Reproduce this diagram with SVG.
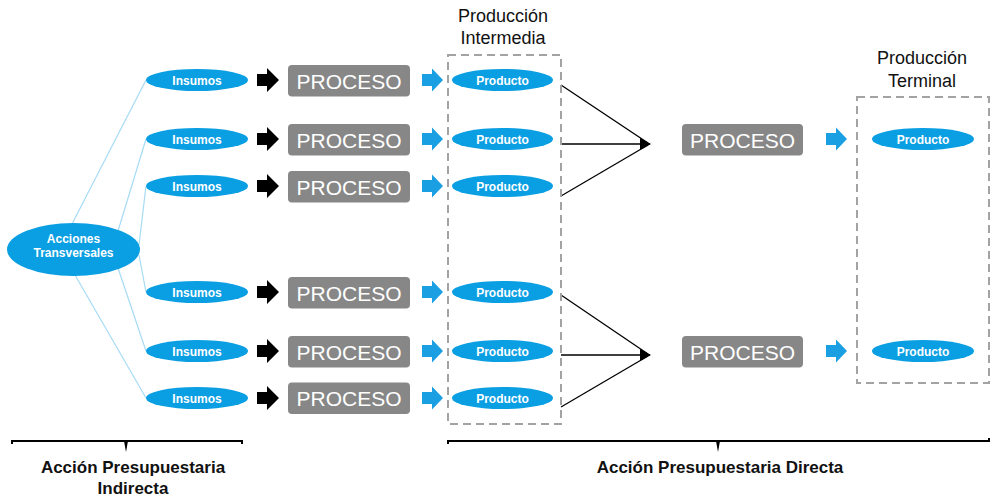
<svg xmlns="http://www.w3.org/2000/svg" width="992" height="498" viewBox="0 0 992 498">
<style>
.ell{fill:#0a9ee2}
.wt{fill:#fff;font-family:"Liberation Sans",Arial,sans-serif;font-weight:bold;font-size:12px;text-anchor:middle}
.box{fill:#878787}
.pt{fill:#fff;font-family:"Liberation Sans",Arial,sans-serif;font-size:21px;text-anchor:middle}
.blk{fill:#000}
.blu{fill:#1a9fe3}
.dash{fill:none;stroke:#a3a3a3;stroke-width:2;stroke-dasharray:8 5}
.lb{stroke:#a6dbf5;stroke-width:1.2;fill:none}
.cn{stroke:#000;stroke-width:1.3;fill:none}
.ttl{fill:#111;font-family:"Liberation Sans",Arial,sans-serif;font-size:18px;text-anchor:middle}
.ftl{fill:#111;font-family:"Liberation Sans",Arial,sans-serif;font-weight:bold;font-size:17px;text-anchor:middle}
.br{stroke:#000;stroke-width:2;fill:none}
</style>
<defs>
<path id="ab" d="M0,-6 H10 V-12 L22,0 L10,12 V6 H0 Z"/>
<path id="au" d="M0,-6 H10 V-11.5 L21,0 L10,11.5 V6 H0 Z"/>
<marker id="ah" markerWidth="11" markerHeight="12" refX="10" refY="6" orient="auto" markerUnits="userSpaceOnUse">
<path d="M0,0 L11,6 L0,12 Z" fill="#000"/>
</marker>
</defs>

<g id="connectors">
<line class="lb" x1="146" y1="80" x2="72" y2="224"/>
<line class="lb" x1="146" y1="139" x2="118" y2="231"/>
<line class="lb" x1="146" y1="186" x2="139" y2="245"/>
<line class="lb" x1="146" y1="292" x2="139" y2="255"/>
<line class="lb" x1="146" y1="351" x2="118" y2="268"/>
<line class="lb" x1="146" y1="398" x2="75" y2="275"/>
<line class="cn" x1="561" y1="85" x2="648" y2="143"/>
<line class="cn" x1="561" y1="144" x2="650" y2="144" marker-end="url(#ah)"/>
<line class="cn" x1="561" y1="196" x2="648" y2="145"/>
<line class="cn" x1="561" y1="295" x2="648" y2="354"/>
<line class="cn" x1="561" y1="355" x2="650" y2="355" marker-end="url(#ah)"/>
<line class="cn" x1="561" y1="407" x2="648" y2="356"/>
<use href="#ab" class="blk" x="257" y="80"/>
<use href="#ab" class="blk" x="257" y="139"/>
<use href="#ab" class="blk" x="257" y="186"/>
<use href="#ab" class="blk" x="257" y="292"/>
<use href="#ab" class="blk" x="257" y="351"/>
<use href="#ab" class="blk" x="257" y="398"/>
<use href="#au" class="blu" x="422" y="80"/>
<use href="#au" class="blu" x="422" y="139"/>
<use href="#au" class="blu" x="422" y="186"/>
<use href="#au" class="blu" x="422" y="292"/>
<use href="#au" class="blu" x="422" y="351"/>
<use href="#au" class="blu" x="422" y="398"/>
<use href="#au" class="blu" x="826" y="139"/>
<use href="#au" class="blu" x="826" y="351"/>
</g>

<g id="acciones-transversales">
<ellipse class="ell" cx="73.5" cy="249.5" rx="66.5" ry="26.5"/>
<text class="wt" x="73.5" y="243">Acciones</text>
<text class="wt" x="73.5" y="257">Transversales</text>
</g>

<g id="insumos-1"><ellipse class="ell" cx="197" cy="80" rx="51" ry="11"/><text class="wt" x="197" y="84.5">Insumos</text></g>
<g id="insumos-2"><ellipse class="ell" cx="197" cy="139" rx="51" ry="11"/><text class="wt" x="197" y="143.5">Insumos</text></g>
<g id="insumos-3"><ellipse class="ell" cx="197" cy="186" rx="51" ry="11"/><text class="wt" x="197" y="190.5">Insumos</text></g>
<g id="insumos-4"><ellipse class="ell" cx="197" cy="292" rx="51" ry="11"/><text class="wt" x="197" y="296.5">Insumos</text></g>
<g id="insumos-5"><ellipse class="ell" cx="197" cy="351" rx="51" ry="11"/><text class="wt" x="197" y="355.5">Insumos</text></g>
<g id="insumos-6"><ellipse class="ell" cx="197" cy="398" rx="51" ry="11"/><text class="wt" x="197" y="402.5">Insumos</text></g>

<g id="proceso-1"><rect class="box" x="288" y="65" width="122" height="31.5" rx="4"/><text class="pt" x="349" y="88.5">PROCESO</text></g>
<g id="proceso-2"><rect class="box" x="288" y="124" width="122" height="31.5" rx="4"/><text class="pt" x="349" y="147.5">PROCESO</text></g>
<g id="proceso-3"><rect class="box" x="288" y="171" width="122" height="31.5" rx="4"/><text class="pt" x="349" y="194.5">PROCESO</text></g>
<g id="proceso-4"><rect class="box" x="288" y="277" width="122" height="31.5" rx="4"/><text class="pt" x="349" y="300.5">PROCESO</text></g>
<g id="proceso-5"><rect class="box" x="288" y="336" width="122" height="31.5" rx="4"/><text class="pt" x="349" y="359.5">PROCESO</text></g>
<g id="proceso-6"><rect class="box" x="288" y="382.5" width="122" height="31.5" rx="4"/><text class="pt" x="349" y="406">PROCESO</text></g>

<g id="produccion-intermedia">
<rect class="dash" x="448" y="55" width="113" height="369"/>
<text class="ttl" x="503" y="22">Producción</text>
<text class="ttl" x="503" y="44">Intermedia</text>
</g>
<g id="producto-1"><ellipse class="ell" cx="502.5" cy="80" rx="50.5" ry="11"/><text class="wt" x="502.5" y="84.5">Producto</text></g>
<g id="producto-2"><ellipse class="ell" cx="502.5" cy="139" rx="50.5" ry="11"/><text class="wt" x="502.5" y="143.5">Producto</text></g>
<g id="producto-3"><ellipse class="ell" cx="502.5" cy="186" rx="50.5" ry="11"/><text class="wt" x="502.5" y="190.5">Producto</text></g>
<g id="producto-4"><ellipse class="ell" cx="502.5" cy="292" rx="50.5" ry="11"/><text class="wt" x="502.5" y="296.5">Producto</text></g>
<g id="producto-5"><ellipse class="ell" cx="502.5" cy="351" rx="50.5" ry="11"/><text class="wt" x="502.5" y="355.5">Producto</text></g>
<g id="producto-6"><ellipse class="ell" cx="502.5" cy="398" rx="50.5" ry="11"/><text class="wt" x="502.5" y="402.5">Producto</text></g>

<g id="proceso-7"><rect class="box" x="682" y="124" width="121" height="31.5" rx="4"/><text class="pt" x="742.5" y="147.5">PROCESO</text></g>
<g id="proceso-8"><rect class="box" x="682" y="336" width="121" height="31.5" rx="4"/><text class="pt" x="742.5" y="359.5">PROCESO</text></g>

<g id="produccion-terminal">
<rect class="dash" x="857" y="97" width="132" height="286"/>
<text class="ttl" x="922" y="64">Producción</text>
<text class="ttl" x="922" y="87">Terminal</text>
</g>
<g id="producto-t1"><ellipse class="ell" cx="923" cy="139" rx="51" ry="11"/><text class="wt" x="923" y="143.5">Producto</text></g>
<g id="producto-t2"><ellipse class="ell" cx="923" cy="351" rx="51" ry="11"/><text class="wt" x="923" y="355.5">Producto</text></g>

<g id="accion-indirecta">
<path class="br" d="M12,444 V441 H242 V444"/>
<polygon points="124,441 128,441 126,452" fill="#000"/>
<text class="ftl" x="133" y="473">Acción Presupuestaria</text>
<text class="ftl" x="133" y="494">Indirecta</text>
</g>
<g id="accion-directa">
<path class="br" d="M448,444 V441 H989 V438"/>
<polygon points="716,441 720,441 718,452" fill="#000"/>
<text class="ftl" x="720" y="473">Acción Presupuestaria Directa</text>
</g>
</svg>
